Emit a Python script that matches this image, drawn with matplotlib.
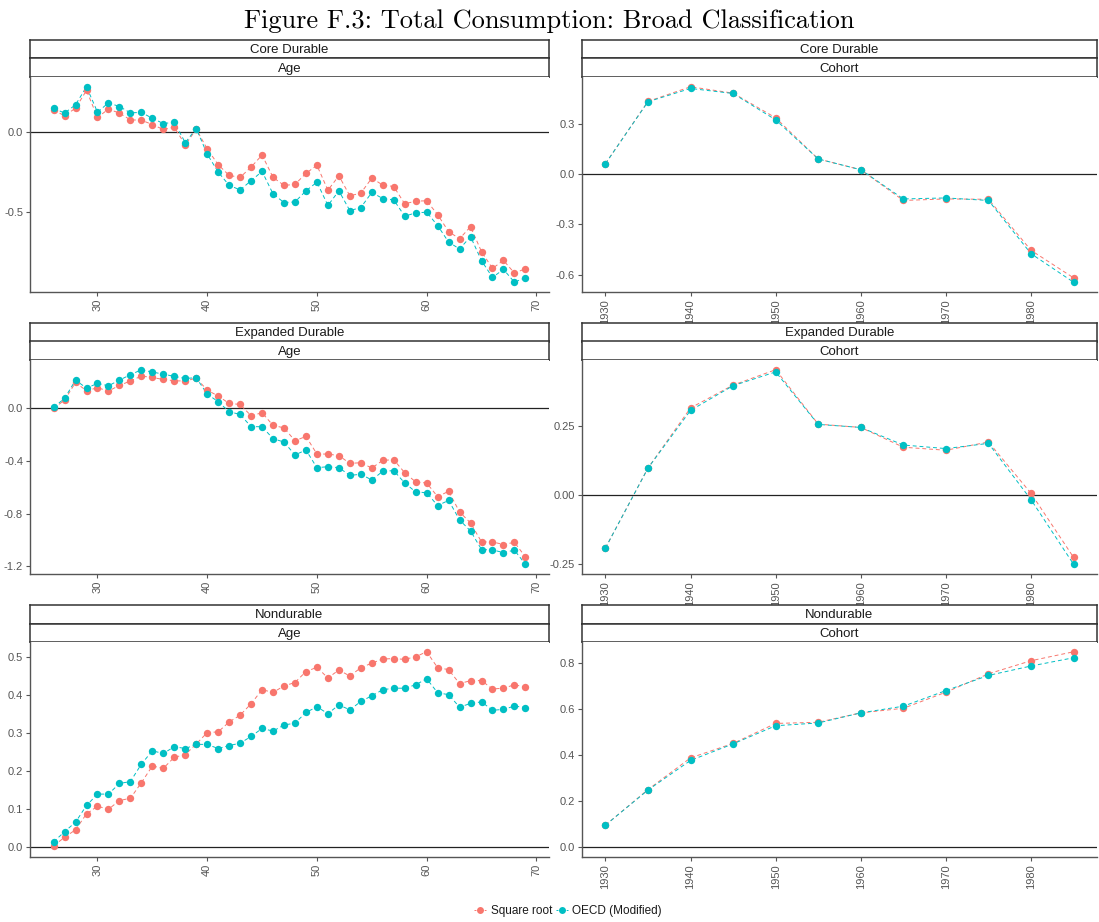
import numpy as np
import matplotlib
matplotlib.use("Agg")
import matplotlib.pyplot as plt
from matplotlib.lines import Line2D

plt.rcParams["font.family"] = ["Liberation Sans", "DejaVu Sans"]
plt.rcParams["axes.unicode_minus"] = False

RED = "#F8766D"
CYAN = "#00BFC4"

# ---- data ----
ages = list(range(26, 70))
cohorts = [1930, 1935, 1940, 1945, 1950, 1955, 1960, 1965, 1970, 1975, 1980, 1985]

core_age_sqrt = [0.135, 0.098, 0.146, 0.256, 0.088, 0.140, 0.115, 0.073, 0.071, 0.044,
                 0.013, 0.027, -0.083, 0.015, -0.108, -0.206, -0.273, -0.285, -0.221, -0.146,
                 -0.285, -0.335, -0.329, -0.260, -0.210, -0.365, -0.275, -0.400, -0.383, -0.290,
                 -0.333, -0.342, -0.450, -0.433, -0.431, -0.517, -0.623, -0.667, -0.592, -0.748,
                 -0.852, -0.802, -0.881, -0.854]
core_age_oecd = [0.146, 0.115, 0.167, 0.279, 0.121, 0.179, 0.156, 0.117, 0.119, 0.083,
                 0.050, 0.058, -0.069, 0.019, -0.140, -0.252, -0.335, -0.363, -0.306, -0.248,
                 -0.388, -0.442, -0.438, -0.369, -0.315, -0.460, -0.369, -0.492, -0.473, -0.379,
                 -0.417, -0.425, -0.527, -0.506, -0.502, -0.585, -0.688, -0.731, -0.654, -0.804,
                 -0.908, -0.858, -0.938, -0.910]

exp_age_sqrt = [0.000, 0.063, 0.197, 0.134, 0.157, 0.132, 0.175, 0.208, 0.246, 0.235,
                0.220, 0.210, 0.208, 0.230, 0.139, 0.094, 0.038, 0.030, -0.056, -0.033,
                -0.129, -0.148, -0.246, -0.213, -0.347, -0.347, -0.359, -0.418, -0.413, -0.453,
                -0.395, -0.390, -0.489, -0.559, -0.567, -0.671, -0.630, -0.787, -0.871, -1.015,
                -1.015, -1.035, -1.018, -1.129]
exp_age_oecd = [0.008, 0.076, 0.215, 0.154, 0.190, 0.172, 0.215, 0.256, 0.294, 0.276,
                0.261, 0.243, 0.228, 0.233, 0.109, 0.051, -0.025, -0.046, -0.139, -0.139,
                -0.230, -0.256, -0.354, -0.316, -0.451, -0.443, -0.451, -0.509, -0.501, -0.544,
                -0.478, -0.473, -0.567, -0.635, -0.641, -0.739, -0.699, -0.848, -0.932, -1.073,
                -1.076, -1.096, -1.078, -1.185]

nd_age_sqrt = [0.004, 0.026, 0.046, 0.088, 0.108, 0.100, 0.123, 0.129, 0.170, 0.214,
               0.208, 0.237, 0.244, 0.272, 0.302, 0.304, 0.330, 0.348, 0.378, 0.415,
               0.408, 0.425, 0.434, 0.463, 0.474, 0.446, 0.467, 0.451, 0.473, 0.485,
               0.496, 0.497, 0.495, 0.502, 0.515, 0.473, 0.468, 0.431, 0.439, 0.439,
               0.417, 0.419, 0.428, 0.422]
nd_age_oecd = [0.014, 0.041, 0.066, 0.110, 0.140, 0.140, 0.168, 0.173, 0.219, 0.254,
               0.247, 0.265, 0.260, 0.271, 0.271, 0.260, 0.268, 0.274, 0.292, 0.313,
               0.306, 0.322, 0.327, 0.355, 0.370, 0.352, 0.375, 0.362, 0.384, 0.399,
               0.415, 0.419, 0.419, 0.428, 0.444, 0.407, 0.402, 0.369, 0.379, 0.383,
               0.361, 0.363, 0.372, 0.368]

core_coh_sqrt = [0.062, 0.433, 0.520, 0.482, 0.335, 0.090, 0.026, -0.157, -0.148, -0.150, -0.454, -0.618]
core_coh_oecd = [0.062, 0.431, 0.510, 0.480, 0.323, 0.090, 0.026, -0.148, -0.142, -0.157, -0.474, -0.644]

exp_coh_sqrt = [-0.193, 0.098, 0.317, 0.400, 0.456, 0.258, 0.246, 0.174, 0.163, 0.193, 0.006, -0.227]
exp_coh_oecd = [-0.193, 0.098, 0.308, 0.398, 0.448, 0.257, 0.246, 0.182, 0.169, 0.188, -0.017, -0.252]

nd_coh_sqrt = [0.096, 0.251, 0.389, 0.452, 0.539, 0.544, 0.585, 0.605, 0.675, 0.755, 0.812, 0.851]
nd_coh_oecd = [0.096, 0.249, 0.378, 0.450, 0.529, 0.541, 0.585, 0.614, 0.682, 0.748, 0.789, 0.825]

categories = ["Core Durable", "Expanded Durable", "Nondurable"]
series_names = ["Square root", "OECD (Modified)"]

age_ticks = [30, 40, 50, 60, 70]
cohort_ticks = [1930, 1940, 1950, 1960, 1970, 1980]
age_yticks = [[0.0, -0.5], [0.0, -0.4, -0.8, -1.2], [0.0, 0.1, 0.2, 0.3, 0.4, 0.5]]
coh_yticks = [[0.3, 0.0, -0.3, -0.6], [0.25, 0.0, -0.25], [0.0, 0.2, 0.4, 0.6, 0.8]]
age_yfmt = ["{:.1f}", "{:.1f}", "{:.1f}"]
coh_yfmt = ["{:.1f}", "{:.2f}", "{:.1f}"]

# ---- layout in pixels ----
W, H = 1099, 922
COLS = [(30, 549), (582, 1097)]
ROWS = [(40, 58.5, 77, 292), (323, 341.5, 360, 574), (605, 623.5, 642, 857)]


def rect(x0, y0, x1, y1):
    return [x0 / W, 1 - y1 / H, (x1 - x0) / W, (y1 - y0) / H]


def strip(fig, x0, x1, y0, y1, label):
    s = fig.add_axes(rect(x0, y0, x1, y1))
    s.set_xticks([])
    s.set_yticks([])
    for sp in s.spines.values():
        sp.set_color("#333333")
        sp.set_linewidth(1.1)
    s.text(0.5, 0.45, label, ha="center", va="center", fontsize=9.5, color="#1A1A1A",
           transform=s.transAxes)


def expand(vals, frac=0.05):
    lo, hi = min(vals), max(vals)
    d = (hi - lo) * frac
    return lo - d, hi + d


def panel(fig, col, row, x, y1, y2, xticks, yticks, yfmt, cat, sub):
    x0, x1 = COLS[col]
    st, sm, at, ab = ROWS[row]
    strip(fig, x0, x1, st, sm, cat)
    strip(fig, x0, x1, sm, at, sub)
    ax = fig.add_axes(rect(x0, at, x1, ab))
    ax.axhline(0, color="#222222", lw=0.9, zorder=1)
    for yy, c in [(y1, RED), (y2, CYAN)]:
        ax.plot(x, yy, color=c, lw=0.7, dashes=(4, 3), zorder=2)
        ax.plot(x, yy, "o", color=c, ms=5.3, mec="none", zorder=3)
    ax.set_xlim(*expand(list(x)))
    ax.set_ylim(*expand(list(y1) + list(y2) + [0.0]))
    ax.set_xticks(xticks)
    ax.set_xticklabels([str(t) for t in xticks], rotation=90)
    ax.set_yticks(yticks)
    ax.set_yticklabels([yfmt.format(t) for t in yticks])
    ax.tick_params(labelsize=8, colors="#555555", length=3, width=0.8, pad=2)
    for side in ["top", "right"]:
        ax.spines[side].set_visible(False)
    for side in ["left", "bottom"]:
        ax.spines[side].set_color("#555555")
        ax.spines[side].set_linewidth(1.0)
    return ax


fig = plt.figure(figsize=(W / 100, H / 100), dpi=100)

age_data = [(core_age_sqrt, core_age_oecd), (exp_age_sqrt, exp_age_oecd), (nd_age_sqrt, nd_age_oecd)]
coh_data = [(core_coh_sqrt, core_coh_oecd), (exp_coh_sqrt, exp_coh_oecd), (nd_coh_sqrt, nd_coh_oecd)]

for r in range(3):
    panel(fig, 0, r, ages, age_data[r][0], age_data[r][1], age_ticks,
          age_yticks[r], age_yfmt[r], categories[r], "Age")
    panel(fig, 1, r, cohorts, coh_data[r][0], coh_data[r][1], cohort_ticks,
          coh_yticks[r], coh_yfmt[r], categories[r], "Cohort")

fig.text(0.5, 1 - 21 / H, "Figure F.3: Total Consumption: Broad Classification",
         ha="center", va="center", fontsize=19, family="cmr10")

handles = [Line2D([], [], color=c, lw=0.7, dashes=(2, 1.5), marker="o", ms=5, mec="none")
           for c in (RED, CYAN)]
fig.legend(handles, series_names, loc="center", bbox_to_anchor=(0.517, 1 - 911 / H),
           ncol=2, frameon=False, fontsize=8.5, handlelength=1.0, handletextpad=0.4,
           columnspacing=0.3, labelcolor="#1A1A1A")

fig.savefig("out.png", dpi=100)
